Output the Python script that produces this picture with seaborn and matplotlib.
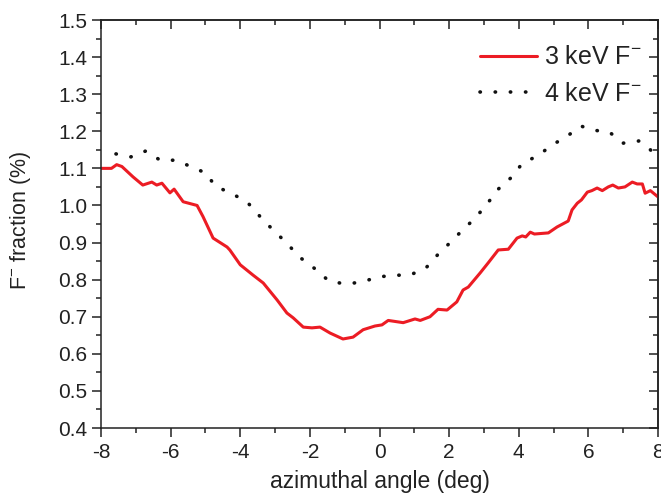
import numpy as np
import pandas as pd
import matplotlib
matplotlib.use("Agg")
import matplotlib.pyplot as plt
import seaborn as sns
from matplotlib.ticker import MultipleLocator

# 3 keV F- (red solid)
x3 = [-8.0, -7.7, -7.55, -7.4, -7.08, -6.8, -6.54, -6.4, -6.25, -6.02, -5.9, -5.64, -5.24,
      -5.07, -4.78, -4.38, -4.3, -4.0, -3.63, -3.34, -2.94, -2.66, -2.48, -2.19, -1.94,
      -1.71, -1.42, -1.05, -0.76, -0.47, -0.13, 0.07, 0.25, 0.68, 1.02, 1.17, 1.45, 1.68,
      1.94, 2.22, 2.4, 2.55, 2.89, 3.12, 3.41, 3.7, 3.95, 4.1, 4.2, 4.33, 4.45, 4.85, 5.1,
      5.42, 5.53, 5.68, 5.8, 5.97, 6.1, 6.25, 6.4, 6.57, 6.7, 6.86, 7.05, 7.26, 7.4, 7.55,
      7.63, 7.78, 8.0]
y3 = [1.10, 1.10, 1.11, 1.105, 1.077, 1.055, 1.063, 1.055, 1.06, 1.034, 1.044, 1.01, 1.00,
      0.97, 0.912, 0.888, 0.88, 0.84, 0.812, 0.791, 0.745, 0.71, 0.697, 0.672, 0.67,
      0.672, 0.656, 0.64, 0.645, 0.665, 0.675, 0.678, 0.69, 0.684, 0.694, 0.69, 0.70, 0.72,
      0.718, 0.74, 0.772, 0.78, 0.818, 0.845, 0.88, 0.882, 0.912, 0.918, 0.915, 0.928, 0.923,
      0.926, 0.942, 0.958, 0.988, 1.006, 1.015, 1.036, 1.04, 1.047, 1.04, 1.05, 1.055, 1.047,
      1.05, 1.063, 1.058, 1.058, 1.033, 1.04, 1.023]

# 4 keV F- (black dotted)
x4 = [-7.57, -7.14, -6.71, -6.3, -5.85, -5.4, -4.98, -4.72, -4.26, -3.8, -3.43, -3.08,
      -2.68, -2.3, -1.85, -1.45, -0.96, -0.5, -0.04, 0.4, 0.85, 1.31, 1.66, 2.03, 2.4,
      2.75, 3.09, 3.41, 3.84, 4.1, 4.53, 4.96, 5.39, 5.79, 6.14, 6.6, 7.0, 7.46, 7.86, 8.0]
y4 = [1.139, 1.131, 1.147, 1.122, 1.122, 1.104, 1.087, 1.052, 1.033, 1.009, 0.97, 0.936,
      0.90, 0.861, 0.829, 0.796, 0.788, 0.794, 0.807, 0.812, 0.812, 0.829, 0.866, 0.90, 0.935,
      0.966, 1.004, 1.044, 1.08, 1.114, 1.133, 1.163, 1.187, 1.214, 1.203, 1.198, 1.168, 1.174,
      1.144, 1.15]

label3 = "3 keV F$^{-}$"
label4 = "4 keV F$^{-}$"
xticks = [-8, -6, -4, -2, 0, 2, 4, 6, 8]
yticks = [0.4, 0.5, 0.6, 0.7, 0.8, 0.9, 1.0, 1.1, 1.2, 1.3, 1.4, 1.5]

sns.set_style("ticks")
plt.rcParams['font.family'] = ['Liberation Sans', 'DejaVu Sans']
plt.rcParams['mathtext.fontset'] = 'custom'
plt.rcParams['mathtext.rm'] = 'Liberation Sans'

INK = "#222222"
fig = plt.figure(figsize=(6.61, 4.94), dpi=100)
ax = fig.add_axes([0.1528, 0.1336, 0.8427, 0.8259])

df3 = pd.DataFrame({"x": x3, "y": y3})
df4 = pd.DataFrame({"x": x4, "y": y4})
sns.lineplot(data=df3, x="x", y="y", ax=ax, color="#ec1c24", linewidth=2.2,
             label=label3, sort=False)
sns.lineplot(data=df4, x="x", y="y", ax=ax, color="#111111", linewidth=2.6,
             linestyle=(0, (0.1, 4.1)), label=label4, sort=False)
for ln in ax.get_lines():
    ln.set_dash_capstyle("round")

ax.set_xlim(-8, 8)
ax.set_ylim(0.4, 1.5)
ax.set_xticks(xticks)
ax.set_xticklabels([str(v) for v in xticks])
ax.set_yticks(yticks)
ax.set_yticklabels([f"{v:.1f}" for v in yticks])
ax.xaxis.set_minor_locator(MultipleLocator(1))
ax.yaxis.set_minor_locator(MultipleLocator(0.05))

for s in ax.spines.values():
    s.set_visible(True)
    s.set_linewidth(1.1)
    s.set_color(INK)

ax.tick_params(axis="both", which="major", length=6.5, width=1.1, color=INK,
               labelsize=15, labelcolor=INK)
ax.tick_params(axis="both", which="minor", length=3.5, width=1.1, color=INK)
ax.tick_params(axis="x", which="both", direction="out", bottom=True, top=False, pad=4)
ax.tick_params(axis="y", which="both", direction="out", left=True, right=False, pad=3.5)

# mirrored inward ticks on top and right
sec_x = ax.secondary_xaxis("top")
sec_x.set_xticks(xticks)
sec_x.xaxis.set_minor_locator(MultipleLocator(1))
sec_x.tick_params(which="major", direction="in", length=6.5, width=1.1, color=INK, labeltop=False)
sec_x.tick_params(which="minor", direction="in", length=3.5, width=1.1, color=INK)
sec_x.spines["top"].set_linewidth(1.1)
sec_x.spines["top"].set_color(INK)
sec_y = ax.secondary_yaxis("right")
sec_y.set_yticks(yticks)
sec_y.yaxis.set_minor_locator(MultipleLocator(0.05))
sec_y.tick_params(which="major", direction="in", length=6.5, width=1.1, color=INK, labelright=False)
sec_y.tick_params(which="minor", direction="in", length=3.5, width=1.1, color=INK)
sec_y.spines["right"].set_linewidth(1.1)
sec_y.spines["right"].set_color(INK)

ax.set_xlabel("azimuthal angle (deg)", fontsize=16.5, color=INK)
ax.set_ylabel("F$^{-}$ fraction (%)", fontsize=15.5, color=INK)
ax.xaxis.set_label_coords(0.5, -0.104)
ax.yaxis.set_label_coords(-0.122, 0.51)

leg = ax.legend(loc="upper left", frameon=False, fontsize=18, handlelength=2.3,
                handletextpad=0.25, borderaxespad=0, borderpad=0, labelspacing=0.5,
                bbox_to_anchor=(0.680, 0.938))
for t in leg.get_texts():
    t.set_color(INK)

fig.savefig("out.png", dpi=100)
